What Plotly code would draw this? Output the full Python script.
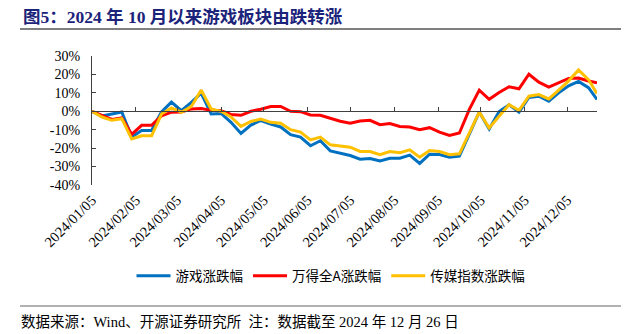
import plotly.graph_objects as go

dates = [
    "2024-01-05", "2024-01-12", "2024-01-19", "2024-01-26",
    "2024-02-02", "2024-02-09", "2024-02-16", "2024-02-23",
    "2024-03-01", "2024-03-08", "2024-03-15", "2024-03-22", "2024-03-29",
    "2024-04-05", "2024-04-12", "2024-04-19", "2024-04-26",
    "2024-05-03", "2024-05-10", "2024-05-17", "2024-05-24", "2024-05-31",
    "2024-06-07", "2024-06-14", "2024-06-21", "2024-06-28",
    "2024-07-05", "2024-07-12", "2024-07-19", "2024-07-26",
    "2024-08-02", "2024-08-09", "2024-08-16", "2024-08-23", "2024-08-30",
    "2024-09-06", "2024-09-13", "2024-09-20", "2024-09-27",
    "2024-10-04", "2024-10-11", "2024-10-18", "2024-10-25",
    "2024-11-01", "2024-11-08", "2024-11-15", "2024-11-22", "2024-11-29",
    "2024-12-06", "2024-12-13", "2024-12-20", "2024-12-26",
]

game = [
    0, -2.5, -1.5, -0.4, -14, -10.4, -10.4, -0.3, 5, 0.3, 4.8, 9.8, -1.5,
    -1.2, -6, -12, -7.5, -5, -7, -8.5, -12.7, -14, -18.7, -16, -21.5, -22.8,
    -24, -26, -25.6, -27, -25.5, -25.5, -23.8, -28.3, -23.3, -23.5, -24.9,
    -24.3, -12.5, -0.4, -9.6, -0.2, 3.5, -0.5, 7.5, 8.2, 5.5, 10, 13.8, 16.2,
    12.8, 6.4,
]

wind_a = [
    0, -2.2, -4.4, -3.6, -12.5, -7.6, -7.6, -2.5, -0.5, -0.4, 1.3, 1.5, 0.5,
    0.3, -1.7, -2.2, 0, 1.1, 2.6, 2.6, 0, -0.2, -2, -2.2, -3.8, -5.4, -6.5,
    -5.3, -4.9, -7.3, -6.7, -8.2, -8.5, -10, -8.9, -11.3, -13.1, -11.8, 1,
    11.5, 6.5, 10.2, 13.3, 12.2, 20.1, 15.8, 13.1, 15.5, 17.8, 18, 16.4, 15.5,
]

media = [
    0, -3.1, -4.9, -4, -15, -13.3, -13.3, -1.5, 1.8, -0.5, 2.6, 11.5, 1.2,
    0, -3.1, -8.2, -5.5, -4.2, -6, -6.5, -10, -11.3, -15.5, -14, -18.2, -19,
    -19.5, -21.8, -21.8, -23.5, -21.8, -22.5, -20.9, -24.9, -21.3, -21.8,
    -23.6, -23.1, -11.5, -0.4, -9.1, -2.5, 3.6, 0.5, 8.2, 9.1, 6.7, 11.5,
    16.5, 22.4, 17.2, 9.5,
]

series_names = ["游戏涨跌幅", "万得全A涨跌幅", "传媒指数涨跌幅"]
series_colors = ["#0070C0", "#FF0000", "#FFC000"]

x_tickvals = [
    "2024-01-05", "2024-02-05", "2024-03-05", "2024-04-05", "2024-05-05",
    "2024-06-05", "2024-07-05", "2024-08-05", "2024-09-05", "2024-10-05",
    "2024-11-05", "2024-12-05",
]
x_ticktext = [d.replace("-", "/") for d in x_tickvals]

y_tickvals = [30, 20, 10, 0, -10, -20, -30, -40]
y_ticktext = ["30%", "20%", "10%", "0%", "-10%", "-20%", "-30%", "-40%"]

title_text = "图5：2024 年 10 月以来游戏板块由跌转涨"
source_text = "数据来源：Wind、开源证券研究所  注：数据截至 2024 年 12 月 26 日"

SERIF = "Liberation Serif, Times New Roman, Noto Sans CJK SC"
W, H = 641, 334
L, R, T, B = 92, 44, 56, 149
pw, ph = W - L - R, H - T - B


def px_x(x):
    return (x - L) / pw


def px_y(y):
    return (H - B - y) / ph


fig = go.Figure()
for vals, name, col in zip([game, wind_a, media], series_names, series_colors):
    fig.add_trace(go.Scatter(
        x=dates, y=vals, name=name, mode="lines",
        line=dict(color=col, width=3),
        hoverinfo="skip",
    ))

# carrier trace for the zero-level axis (invisible)
fig.add_trace(go.Scatter(
    x=[dates[0]], y=[None], xaxis="x2", mode="lines",
    showlegend=False, hoverinfo="skip",
))

y_min, y_max = -40, 30

fig.update_layout(
    width=W, height=H, autosize=False,
    margin=dict(l=L, r=R, t=T, b=B, pad=0),
    paper_bgcolor="white", plot_bgcolor="white",
    xaxis=dict(
        type="date", range=[dates[0], dates[-1]],
        tickvals=x_tickvals, ticktext=x_ticktext, tickangle=-45,
        showline=False, ticks="", showgrid=False, zeroline=False,
        ticklabelstandoff=3,
        tickfont=dict(family=SERIF, size=14.5, color="#000000"),
    ),
    xaxis2=dict(
        type="date", range=[dates[0], dates[-1]], overlaying="x",
        anchor="free", position=(0 - y_min) / (y_max - y_min),
        tickvals=x_tickvals, showticklabels=False,
        ticks="inside", ticklen=4, tickcolor="#404040", tickwidth=1,
        showline=True, linecolor="#404040", linewidth=1.2,
        showgrid=False, zeroline=False,
    ),
    yaxis=dict(
        range=[y_min, y_max], tickvals=y_tickvals, ticktext=y_ticktext,
        showline=True, linecolor="#404040", linewidth=1.2,
        ticks="inside", ticklen=4, tickcolor="#404040",
        showgrid=False, zeroline=False, ticklabelstandoff=8,
        tickfont=dict(family=SERIF, size=14, color="#000000"),
    ),
    legend=dict(
        orientation="h", x=px_x(331), xanchor="center",
        y=px_y(276), yanchor="middle",
        font=dict(family="Noto Sans CJK SC", size=13.5, color="#000000"),
        bgcolor="rgba(0,0,0,0)", itemwidth=34,
    ),
    showlegend=True,
)

fig.add_annotation(
    text="<b>" + title_text + "</b>", xref="paper", yref="paper",
    x=px_x(21), y=px_y(17), xanchor="left", yanchor="middle",
    showarrow=False, font=dict(family=SERIF, size=17.5, color="#1B237A"),
)
fig.add_annotation(
    text=source_text, xref="paper", yref="paper",
    x=px_x(19), y=px_y(322), xanchor="left", yanchor="middle",
    showarrow=False, font=dict(family=SERIF, size=14.5, color="#000000"),
)

fig.add_shape(type="line", xref="paper", yref="paper",
              x0=px_x(20), x1=px_x(621), y0=px_y(29), y1=px_y(29),
              line=dict(color="#555555", width=1.5))
fig.add_shape(type="line", xref="paper", yref="paper",
              x0=px_x(20), x1=px_x(621), y0=px_y(306), y1=px_y(306),
              line=dict(color="#666666", width=1.2))

fig.write_html("out.html")
